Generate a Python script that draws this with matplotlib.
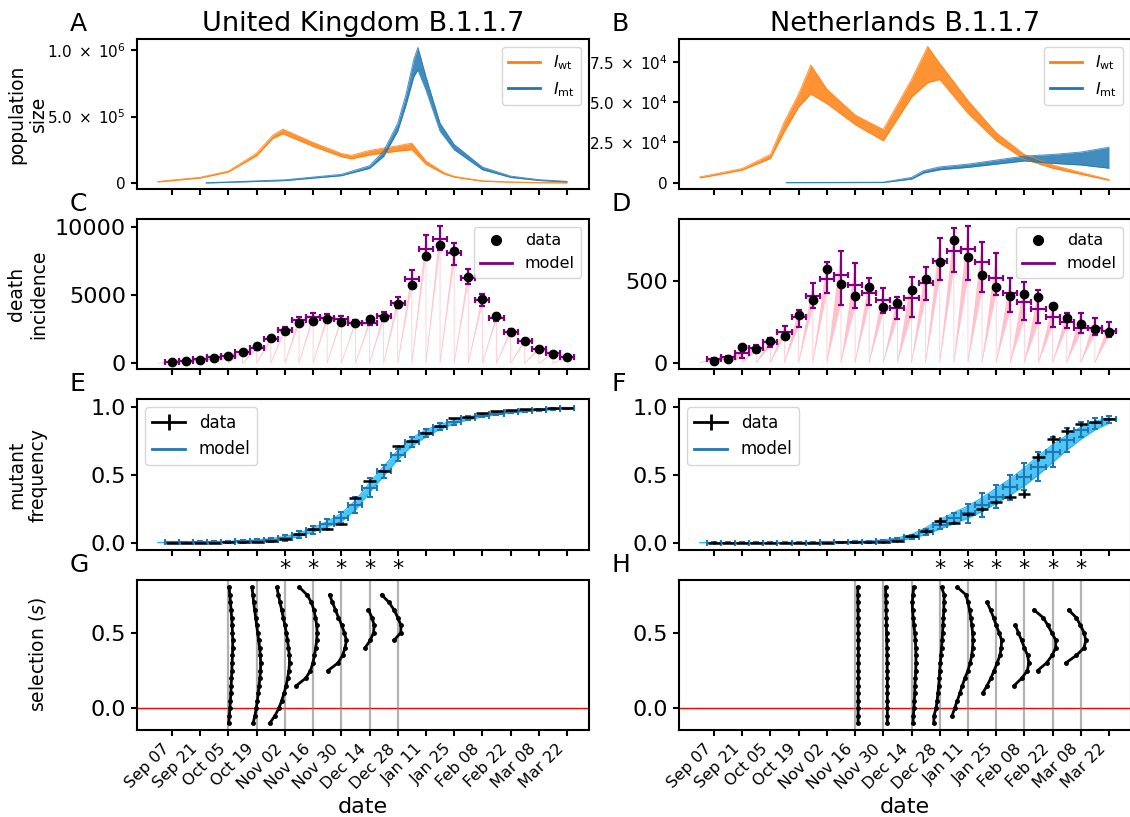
import numpy as np
import matplotlib
matplotlib.use("Agg")
import matplotlib.pyplot as plt
import matplotlib.dates as mdates
from matplotlib.lines import Line2D
from matplotlib.ticker import FuncFormatter

plt.rcParams["axes.linewidth"] = 1.5
plt.rcParams["xtick.major.width"] = 1.5
plt.rcParams["ytick.major.width"] = 1.5
plt.rcParams["xtick.major.size"] = 4.5
plt.rcParams["ytick.major.size"] = 4.5

# ---------------------------------------------------------------- data
week_dates = np.arange(np.datetime64("2020-09-07"), np.datetime64("2021-03-23"),
                       np.timedelta64(7, "D"))
tick_dates = week_dates[::2]

# panel A / B: bundles of model trajectories (lower / upper edge)
uk_wt_dates = ["2020-08-31", "2020-09-21", "2020-10-05", "2020-10-19", "2020-10-27",
               "2020-11-01", "2020-11-16", "2020-11-30", "2020-12-05", "2020-12-14",
               "2020-12-28", "2021-01-04", "2021-01-11", "2021-01-20", "2021-01-25",
               "2021-02-08", "2021-02-22", "2021-03-08", "2021-03-22"]
uk_wt_lo = [0.8e4, 3.7e4, 8.3e4, 2.05e5, 3.35e5, 3.7e5, 2.75e5, 1.98e5, 1.82e5, 2.1e5,
            2.4e5, 2.5e5, 1.4e5, 6.8e4, 4.4e4, 1.3e4, 6e3, 2e3, 5e2]
uk_wt_hi = [1.2e4, 4.3e4, 9.0e4, 2.25e5, 3.6e5, 4.05e5, 3.05e5, 2.22e5, 2.08e5, 2.45e5,
            2.8e5, 3.0e5, 1.65e5, 7.8e4, 5.0e4, 1.7e4, 8e3, 3e3, 1e3]

uk_mt_dates = ["2020-09-24", "2020-11-02", "2020-11-30", "2020-12-14", "2020-12-21",
               "2020-12-28", "2021-01-01", "2021-01-05", "2021-01-07", "2021-01-11",
               "2021-01-18", "2021-01-25", "2021-02-08", "2021-02-22", "2021-03-08",
               "2021-03-22"]
uk_mt_lo = [0, 1.8e4, 5.5e4, 1.1e5, 2.0e5, 3.9e5, 5.8e5, 8.0e5, 8.5e5, 7.0e5,
            3.9e5, 2.5e5, 1.0e5, 4.2e4, 1.9e4, 8e3]
uk_mt_hi = [2e3, 2.4e4, 6.5e4, 1.3e5, 2.4e5, 4.5e5, 6.6e5, 9.3e5, 1.02e6, 8.0e5,
            4.5e5, 2.9e5, 1.2e5, 5.2e4, 2.5e4, 1.2e4]

nl_wt_dates = ["2020-08-31", "2020-09-07", "2020-09-21", "2020-10-05", "2020-10-12",
               "2020-10-19", "2020-10-25", "2020-11-02", "2020-11-16", "2020-11-30",
               "2020-12-14", "2020-12-22", "2020-12-28", "2021-01-11", "2021-01-25",
               "2021-02-08", "2021-02-22", "2021-03-08", "2021-03-22"]
nl_wt_lo = [3.0e3, 4.5e3, 7.8e3, 1.5e4, 3.2e4, 4.7e4, 5.5e4, 4.9e4, 3.6e4, 2.6e4,
            5.3e4, 6.2e4, 6.4e4, 4.3e4, 2.6e4, 1.45e4, 9.0e3, 5.2e3, 1.5e3]
nl_wt_hi = [3.6e3, 5.3e3, 8.8e3, 1.75e4, 3.8e4, 5.5e4, 7.3e4, 5.8e4, 4.2e4, 3.3e4,
            6.4e4, 8.45e4, 7.4e4, 5.1e4, 3.1e4, 1.75e4, 1.1e4, 6.4e3, 2.0e3]

nl_mt_dates = ["2020-10-13", "2020-11-30", "2020-12-14", "2020-12-20", "2020-12-28",
               "2021-01-11", "2021-01-25", "2021-02-08", "2021-02-22", "2021-03-08",
               "2021-03-22"]
nl_mt_lo = [0, 100, 2.2e3, 6.0e3, 8.0e3, 9.5e3, 1.15e4, 1.35e4, 1.2e4, 1.1e4, 0.9e4]
nl_mt_hi = [100, 300, 3.3e3, 7.5e3, 9.8e3, 1.15e4, 1.4e4, 1.65e4, 1.75e4, 1.9e4, 2.2e4]

# panel C / D: weekly death incidence
uk_death_data = [120, 190, 265, 410, 530, 850, 1270, 1870, 2360, 2930, 3100, 3220, 3050,
                 2950, 3270, 3370, 4320, 5730, 7850, 8660, 8220, 6340, 4710, 3440, 2310,
                 1630, 1050, 660, 440]
uk_death_model = [120, 193, 315, 437, 535, 852, 1145, 1755, 2438, 3170, 3414, 3340, 3243,
                  2975, 2975, 3463, 4439, 6171, 8343, 9075, 8050, 6268, 4634, 3340, 2316,
                  1633, 1047, 730, 437]
uk_death_lo = [70, 140, 240, 360, 440, 740, 1000, 1600, 2250, 2800, 3120, 3080, 3050, 2800,
               2780, 3100, 4020, 5490, 7690, 8290, 7200, 5780, 4220, 3100, 2150, 1500,
               940, 650, 380]
uk_death_hi = [170, 250, 390, 520, 640, 970, 1300, 1950, 2650, 3410, 3700, 3600, 3440,
               3150, 3180, 3730, 4880, 6830, 9390, 10080, 8780, 6900, 5050, 3580, 2500,
               1780, 1170, 820, 510]

nl_death_data = [12, 25, 94, 82, 133, 164, 290, 385, 573, 484, 409, 460, 339, 363, 445,
                 510, 618, 751, 647, 537, 462, 409, 419, 402, 347, 271, 237, 206, 190]
nl_death_model = [20, 33, 57, 88, 129, 190, 278, 410, 512, 537, 475, 429, 384, 333, 394,
                  486, 624, 686, 694, 618, 516, 424, 369, 329, 282, 247, 214, 214, 194]
nl_death_lo = [12, 25, 27, 67, 98, 159, 220, 333, 424, 353, 333, 353, 302, 267, 282, 384,
               506, 557, 506, 435, 414, 312, 261, 241, 220, 210, 180, 170, 159]
nl_death_hi = [28, 42, 77, 108, 149, 225, 322, 486, 618, 684, 608, 516, 459, 404, 527,
               588, 761, 826, 839, 741, 669, 520, 492, 445, 353, 306, 306, 276, 247]

# panel E / F: mutant frequency
uk_freq_data = [0.0, 0.0, 0.0, 0.0, 0.003, 0.005, 0.008, 0.013, 0.025, 0.062, 0.10, 0.10,
                0.137, 0.331, 0.456, 0.527, 0.711, 0.750, 0.804, 0.860, 0.914, 0.922,
                0.951, 0.968, 0.973, 0.981, 0.983, 0.988, 0.990]
uk_freq_data_err = [0.002, 0.002, 0.002, 0.002, 0.003, 0.003, 0.004, 0.004, 0.005, 0.006,
                    0.007, 0.007, 0.008, 0.01, 0.01, 0.01, 0.01, 0.008, 0.007, 0.006,
                    0.005, 0.005, 0.004, 0.003, 0.003, 0.003, 0.002, 0.002, 0.002]
uk_freq_model = [0.0015, 0.0025, 0.003, 0.0045, 0.0065, 0.0095, 0.014, 0.021, 0.035,
                 0.058, 0.095, 0.136, 0.185, 0.275, 0.405, 0.525, 0.645, 0.74, 0.805,
                 0.853, 0.888, 0.915, 0.935, 0.95, 0.962, 0.971, 0.978, 0.983, 0.988]
uk_freq_model_err = [0.005, 0.005, 0.006, 0.007, 0.008, 0.01, 0.012, 0.015, 0.02, 0.025,
                     0.03, 0.035, 0.04, 0.06, 0.07, 0.05, 0.045, 0.035, 0.03, 0.025, 0.02,
                     0.015, 0.012, 0.01, 0.008, 0.007, 0.006, 0.005, 0.004]
# trajectory band, weekly from Aug 31
uk_band_lo = [0.0, 0.0, 0.001, 0.001, 0.002, 0.003, 0.005, 0.008, 0.013, 0.025, 0.045,
              0.08, 0.118, 0.155, 0.24, 0.37, 0.49, 0.61, 0.71, 0.78, 0.835, 0.875, 0.905,
              0.925, 0.942, 0.955, 0.965, 0.973, 0.979, 0.984]
uk_band_hi = [0.002, 0.003, 0.004, 0.005, 0.007, 0.01, 0.014, 0.02, 0.03, 0.045, 0.07,
              0.11, 0.155, 0.215, 0.31, 0.44, 0.56, 0.68, 0.77, 0.83, 0.87, 0.9, 0.925,
              0.945, 0.958, 0.968, 0.976, 0.982, 0.987, 0.991]

nl_freq_data = [0.0, 0.0, 0.0, 0.0, 0.0, 0.0, 0.0, 0.0, 0.0, 0.004, 0.002, 0.004, 0.003,
                0.015, 0.052, 0.086, 0.162, 0.147, 0.211, 0.245, 0.302, 0.338, 0.358,
                0.633, 0.760, 0.824, 0.870, 0.890, 0.910]
nl_freq_data_err = [0.01, 0.003, 0.003, 0.003, 0.003, 0.003, 0.003, 0.003, 0.003, 0.004,
                    0.004, 0.005, 0.006, 0.008, 0.01, 0.012, 0.03, 0.012, 0.015, 0.015,
                    0.015, 0.02, 0.03, 0.03, 0.03, 0.025, 0.015, 0.01, 0.008]
nl_freq_model = [0.0, 0.0, 0.0, 0.0, 0.0, 0.0, 0.001, 0.001, 0.002, 0.003, 0.004, 0.007,
                 0.012, 0.022, 0.045, 0.08, 0.13, 0.18, 0.215, 0.277, 0.338, 0.407, 0.485,
                 0.559, 0.67, 0.755, 0.83, 0.877, 0.907]
nl_freq_model_err = [0.002, 0.002, 0.002, 0.002, 0.002, 0.002, 0.003, 0.003, 0.004, 0.005,
                     0.006, 0.008, 0.01, 0.012, 0.015, 0.02, 0.03, 0.035, 0.07, 0.09,
                     0.085, 0.09, 0.1, 0.105, 0.11, 0.09, 0.055, 0.04, 0.025]
nl_band_lo = [0.0, 0.0, 0.0, 0.0, 0.0, 0.0, 0.0, 0.0, 0.0, 0.001, 0.001, 0.002, 0.004,
              0.007, 0.015, 0.03, 0.06, 0.1, 0.14, 0.18, 0.23, 0.29, 0.35, 0.42, 0.5,
              0.59, 0.68, 0.76, 0.83, 0.88]
nl_band_hi = [0.001, 0.001, 0.001, 0.001, 0.001, 0.001, 0.002, 0.002, 0.003, 0.004, 0.006,
              0.008, 0.013, 0.02, 0.035, 0.06, 0.11, 0.17, 0.22, 0.27, 0.33, 0.4, 0.47,
              0.55, 0.64, 0.72, 0.79, 0.85, 0.89, 0.92]

# panel G / H: selection profiles, s against day offset from the window date
uk_sel_dates = ["2020-10-05", "2020-10-19", "2020-11-02", "2020-11-16", "2020-11-30",
                "2020-12-14", "2020-12-28"]
uk_sel_star = ["2020-11-02", "2020-11-16", "2020-11-30", "2020-12-14", "2020-12-28"]
s_full = [0.8, 0.75, 0.7, 0.65, 0.6, 0.55, 0.5, 0.45, 0.4, 0.35, 0.3, 0.25, 0.2, 0.15,
          0.1, 0.05, 0.0, -0.05, -0.1]
uk_sel_s = [s_full, s_full, s_full,
            [0.8, 0.75, 0.7, 0.65, 0.6, 0.55, 0.5, 0.45, 0.4, 0.35, 0.3, 0.25, 0.2, 0.15],
            [0.75, 0.7, 0.65, 0.6, 0.55, 0.5, 0.45, 0.4, 0.35, 0.3, 0.25],
            [0.65, 0.6, 0.55, 0.5, 0.45, 0.4],
            [0.75, 0.7, 0.65, 0.6, 0.55, 0.5, 0.45]]
uk_sel_off = [
    [0.3, 0.7, 1.0, 1.3, 1.6, 1.8, 2.0, 2.1, 2.1, 2.0, 1.8, 1.7, 1.5, 1.35, 1.2, 0.95, 0.7, 0.45, 0.1],
    [-2.3, -1.9, -1.5, -1.0, -0.5, 0.0, 0.5, 1.0, 1.5, 1.8, 2.0, 1.9, 1.6, 1.2, 0.8, 0.3, -0.2, -0.9, -1.8],
    [-4.0, -3.2, -2.4, -1.6, -0.8, 0.0, 0.7, 1.3, 1.8, 2.2, 2.3, 2.0, 1.4, 0.6, -0.4, -1.6, -3.0, -5.0, -7.6],
    [-6.8, -3.0, -0.8, 0.4, 1.2, 1.8, 2.0, 1.8, 1.3, 0.7, -0.1, -1.3, -3.6, -8.3],
    [-5.8, -4.4, -2.9, -1.4, 0.2, 1.5, 2.5, 1.9, 0.6, -1.6, -6.6],
    [-0.5, 1.2, 2.3, 2.0, 0.4, -2.2],
    [-8.0, -4.3, -1.8, 0.0, 1.6, 1.5, -1.8]]

nl_sel_dates = ["2020-11-16", "2020-11-30", "2020-12-14", "2020-12-28", "2021-01-11",
                "2021-01-25", "2021-02-08", "2021-02-22", "2021-03-08"]
nl_sel_star = ["2020-12-28", "2021-01-11", "2021-01-25", "2021-02-08", "2021-02-22",
               "2021-03-08"]
nl_sel_s = [s_full, s_full, s_full, s_full, s_full[:-1],
            [0.7, 0.65, 0.6, 0.55, 0.5, 0.45, 0.4, 0.35, 0.3, 0.25, 0.2, 0.15, 0.1],
            [0.55, 0.5, 0.45, 0.4, 0.35, 0.3, 0.25, 0.2, 0.15],
            [0.65, 0.6, 0.55, 0.5, 0.45, 0.4, 0.35, 0.3, 0.25],
            [0.65, 0.6, 0.55, 0.5, 0.45, 0.4, 0.35, 0.3]]
nl_sel_off = [
    [1.3, 1.35, 1.4, 1.45, 1.5, 1.5, 1.55, 1.6, 1.6, 1.6, 1.6, 1.6, 1.6, 1.6, 1.55, 1.55, 1.5, 1.5, 1.5],
    [1.1, 1.2, 1.3, 1.4, 1.5, 1.55, 1.6, 1.7, 1.8, 1.85, 1.9, 1.95, 2.0, 2.0, 2.0, 2.0, 2.0, 2.0, 2.0],
    [1.1, 0.7, 0.4, 0.5, 0.8, 1.2, 1.6, 1.9, 2.1, 2.2, 2.2, 2.1, 1.9, 1.7, 1.6, 1.4, 1.2, 0.9, 0.7],
    [0.9, 2.2, 2.1, 2.0, 1.8, 1.6, 1.4, 1.2, 0.9, 0.6, 0.3, 0.0, -0.2, -0.5, -0.9, -1.3, -1.8, -2.9, -2.9],
    [-5.2, -1.0, 0.0, 0.8, 1.4, 1.9, 2.3, 2.5, 2.3, 1.9, 1.1, 0.0, -1.5, -2.8, -4.0, -5.3, -6.6, -7.9],
    [-4.5, -2.8, -1.3, 0.0, 1.5, 2.7, 2.5, 1.9, 0.5, -1.0, -2.6, -4.5, -6.7],
    [-4.5, -3.0, -1.4, 0.0, 1.6, 2.2, 1.5, -1.2, -5.1],
    [-9.2, -4.7, -2.4, -0.4, 1.6, 1.5, -0.2, -3.0, -7.4],
    [-6.0, -2.3, -0.2, 1.6, 2.5, 1.6, -2.2, -7.4]]

ORANGE = "#ff7f0e"
BLUE = "#1f77b4"
LIGHTBLUE = "#1fb8f5"


def dnum(d):
    return mdates.datestr2num(d)


def sci_fmt(v, pos):
    if v == 0:
        return "0"
    exp = int(np.floor(np.log10(abs(v))))
    return r"$%.1f\;\times\;10^{%d}$" % (v / 10 ** exp, exp)


# ---------------------------------------------------------------- layout
fig = plt.figure(figsize=(11.3, 8.17), dpi=100)
W, H = 1130.0, 817.0
col_left = [137, 679]
row_tb = [(39, 189), (219, 369), (399, 550), (580, 730)]
axes = [[fig.add_axes([cl / W, 1 - b / H, 452 / W, (b - t) / H]) for cl in col_left]
        for (t, b) in row_tb]
letters = [["A", "B"], ["C", "D"], ["E", "F"], ["G", "H"]]

xw = mdates.date2num(week_dates)
x_lim = (dnum("2020-08-20 15:00"), dnum("2021-04-01 22:00"))

# ---- A / B
for ax, (wd, wl, wh), (md, ml, mh), yl, yt in [
        (axes[0][0], (uk_wt_dates, uk_wt_lo, uk_wt_hi), (uk_mt_dates, uk_mt_lo, uk_mt_hi),
         (-4.5e4, 1.083e6), [0, 5e5, 1e6]),
        (axes[0][1], (nl_wt_dates, nl_wt_lo, nl_wt_hi), (nl_mt_dates, nl_mt_lo, nl_mt_hi),
         (-3900, 89100), [0, 2.5e4, 5e4, 7.5e4])]:
    for d, lo, hi, c in [(wd, wl, wh, ORANGE), (md, ml, mh, BLUE)]:
        x = dnum(d)
        ax.fill_between(x, lo, hi, color=c, alpha=0.85, lw=0)
        ax.plot(x, lo, color=c, lw=0.7, alpha=0.8)
        ax.plot(x, hi, color=c, lw=0.7, alpha=0.8)
    ax.set_ylim(*yl)
    ax.set_yticks(yt)
    ax.yaxis.set_major_formatter(FuncFormatter(sci_fmt))
    ax.tick_params(axis="y", labelsize=11)
    handles = [Line2D([], [], color=ORANGE, lw=2, label=r"$I_{\rm wt}$"),
               Line2D([], [], color=BLUE, lw=2, label=r"$I_{\rm mt}$")]
    ax.legend(handles=handles, loc="upper right", fontsize=11.5)
axes[0][0].set_title("United Kingdom B.1.1.7", fontsize=19.5)
axes[0][1].set_title("Netherlands B.1.1.7", fontsize=19.5)

# ---- C / D
for ax, data, model, lo, hi, yl, yt, alpha in [
        (axes[1][0], uk_death_data, uk_death_model, uk_death_lo, uk_death_hi,
         (-417, 10563), [0, 5000, 10000], 0.7),
        (axes[1][1], nl_death_data, nl_death_model, nl_death_lo, nl_death_hi,
         (-38.6, 879), [0, 500], 0.95)]:
    lo = np.asarray(lo, float)
    hi = np.asarray(hi, float)
    model = np.asarray(model, float)
    # within-week cumulative model deaths (saw-tooth)
    saw_x, saw_y = [], []
    for xe, l, h in zip(xw, lo, hi):
        xs = xe - 7
        ax.fill([xs, xe, xe], [0, l, h], color="pink", alpha=alpha, lw=0, zorder=1)
        saw_x += [xs, xe]
        saw_y += [0, (l + h) / 2]
    ax.plot(saw_x, saw_y, color="pink", lw=0.6, alpha=0.8, zorder=1)
    ax.errorbar(xw, model, yerr=[model - lo, hi - model], xerr=3.5, fmt="none",
                ecolor="purple", elinewidth=1.6, capsize=2, capthick=1.6, zorder=2)
    ax.plot(xw, data, "o", color="k", ms=6, zorder=3)
    ax.set_ylim(*yl)
    ax.set_yticks(yt)
    ax.tick_params(axis="y", labelsize=16)
    handles = [Line2D([], [], color="k", marker="o", ls="none", ms=7, label="data"),
               Line2D([], [], color="purple", lw=2, label="model")]
    ax.legend(handles=handles, loc="upper right", fontsize=11.5)

# ---- E / F
x_band = np.concatenate([[xw[0] - 7], xw])
for ax, data, derr, model, merr, blo, bhi in [
        (axes[2][0], uk_freq_data, uk_freq_data_err, uk_freq_model, uk_freq_model_err,
         uk_band_lo, uk_band_hi),
        (axes[2][1], nl_freq_data, nl_freq_data_err, nl_freq_model, nl_freq_model_err,
         nl_band_lo, nl_band_hi)]:
    ax.fill_between(x_band, blo, bhi, color=LIGHTBLUE, alpha=0.8, lw=0, zorder=1)
    ax.plot(x_band, blo, color=LIGHTBLUE, lw=0.8, zorder=1)
    ax.plot(x_band, bhi, color=LIGHTBLUE, lw=0.8, zorder=1)
    ax.errorbar(xw, model, yerr=merr, xerr=3.5, fmt="none", ecolor=BLUE,
                elinewidth=1.5, capsize=2, capthick=1.5, zorder=2)
    ax.errorbar(xw, data, yerr=derr, xerr=3.0, fmt="none", ecolor="k",
                elinewidth=1.8, zorder=3)
    ax.set_ylim(-0.054, 1.057)
    ax.set_yticks([0, 0.5, 1.0])
    ax.tick_params(axis="y", labelsize=16)
    handles = [Line2D([], [], color="k", lw=2, marker="|", ms=11, mew=2, label="data"),
               Line2D([], [], color=BLUE, lw=2, label="model")]
    ax.legend(handles=handles, loc="upper left", fontsize=12)

# ---- G / H
for ax, dates, stars, ss, offs in [
        (axes[3][0], uk_sel_dates, uk_sel_star, uk_sel_s, uk_sel_off),
        (axes[3][1], nl_sel_dates, nl_sel_star, nl_sel_s, nl_sel_off)]:
    ax.axhline(0, color="red", lw=1, zorder=1)
    for d, s, off in zip(dates, ss, offs):
        x0 = dnum(d)
        ax.axvline(x0, color="gray", lw=1.6, alpha=0.6, zorder=1)
        ax.plot(x0 + np.asarray(off), s, color="k", lw=2, marker="o", ms=2.5, zorder=2)
    for d in stars:
        ax.text(dnum(d), 1.075, "*", transform=ax.get_xaxis_transform(),
                ha="center", va="center", fontsize=16)
    ax.set_ylim(-0.143, 0.848)
    ax.set_yticks([0, 0.5])
    ax.tick_params(axis="y", labelsize=16)
    ax.set_xlabel("date", fontsize=16)

# ---- common x axis
for r in range(4):
    for c in range(2):
        ax = axes[r][c]
        ax.set_xlim(*x_lim)
        ax.set_xticks(mdates.date2num(tick_dates))
        ax.xaxis.set_major_formatter(mdates.DateFormatter("%b %d"))
        if r < 3:
            ax.tick_params(axis="x", labelbottom=False)
        else:
            plt.setp(ax.get_xticklabels(), rotation=45, ha="right", fontsize=11.5)
        t = row_tb[r][0]
        fig.text((col_left[c] - 67) / W, 1 - (t - 3) / H, letters[r][c],
                 fontsize=18, ha="left", va="bottom")

ylabels = ["population\nsize", "death\nincidence", "mutant\nfrequency", "selection ($s$)"]
for r, lab in enumerate(ylabels):
    axes[r][0].set_ylabel(lab, fontsize=13.5)
    axes[r][0].yaxis.set_label_coords(-0.197, 0.5)

fig.savefig("out.png", dpi=100)
